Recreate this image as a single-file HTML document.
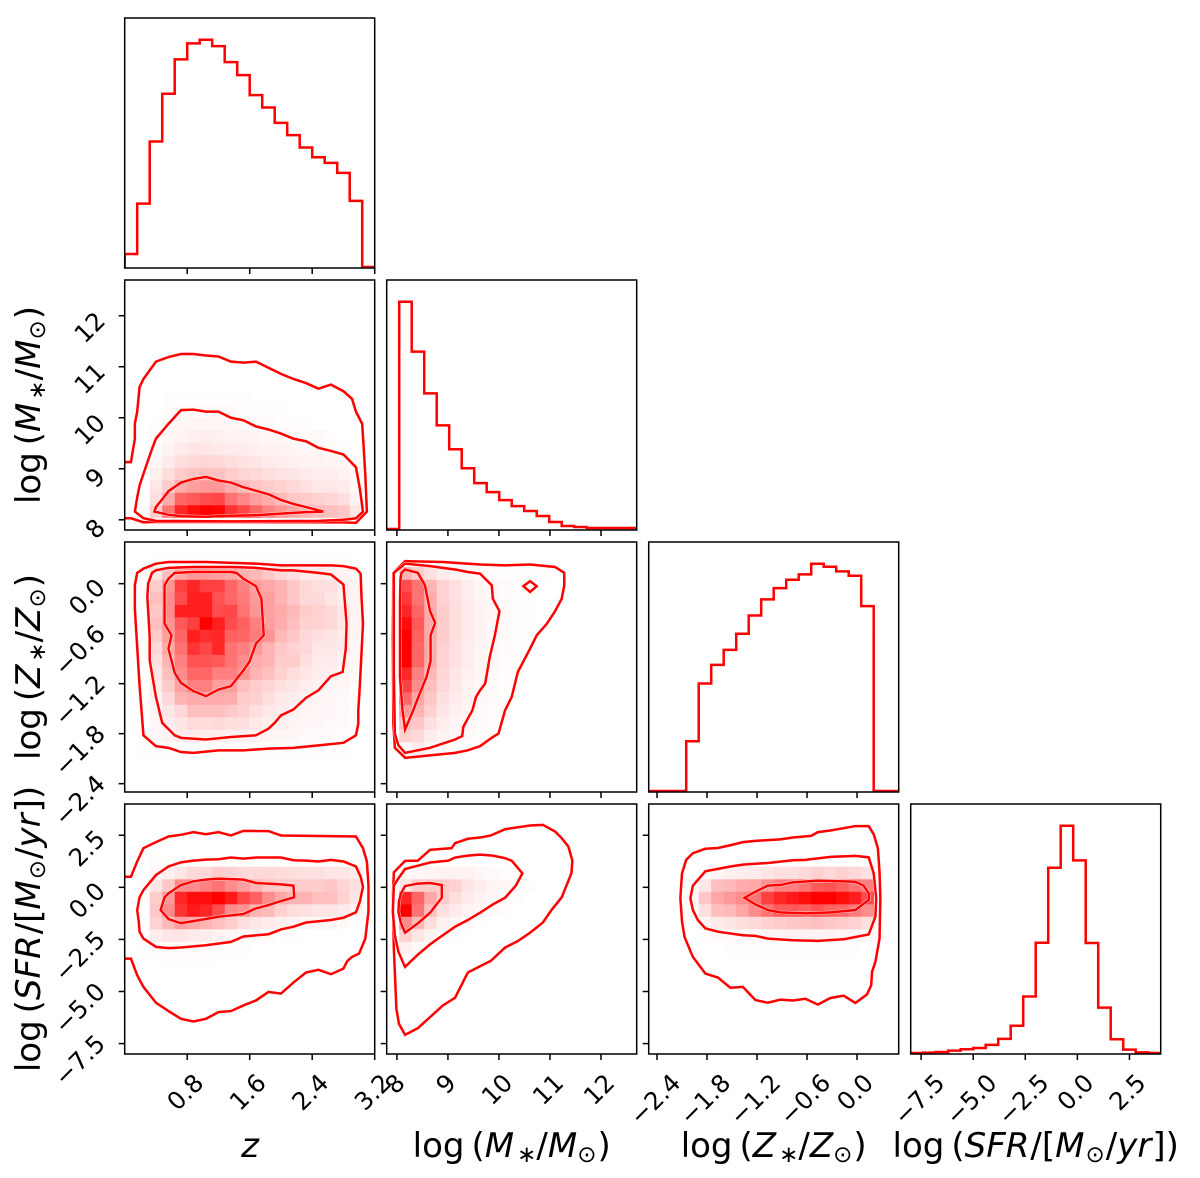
<!DOCTYPE html>
<html lang="en">
<head>
<meta charset="utf-8">
<title>Corner plot</title>
<style>
html,body{margin:0;padding:0;background:#fff;}
svg{display:block;}
text{font-family:"DejaVu Sans","Liberation Sans",sans-serif;fill:#000;}
</style>
</head>
<body>
<svg id="chart" xmlns="http://www.w3.org/2000/svg" width="1200" height="1178" viewBox="0 0 1200 1178">
<rect x="0" y="0" width="1200" height="1178" fill="#fff"/>
<g id="panels"></g>
<g id="ticklabels"></g>
<g font-size="34">
<text x="250" y="1157" text-anchor="middle" font-style="italic">z</text>
<text x="511.7" y="1157" text-anchor="middle">log<tspan dx="7">(</tspan><tspan font-style="italic">M</tspan><tspan dx="3" dy="5" font-size="23">∗</tspan><tspan dy="-5">/</tspan><tspan font-style="italic">M</tspan><tspan dy="5" font-size="23">⊙</tspan><tspan dx="1" dy="-5">)</tspan></text>
<text x="773.7" y="1157" text-anchor="middle">log<tspan dx="7">(</tspan><tspan font-style="italic">Z</tspan><tspan dx="3" dy="5" font-size="23">∗</tspan><tspan dy="-5">/</tspan><tspan font-style="italic">Z</tspan><tspan dy="5" font-size="23">⊙</tspan><tspan dx="1" dy="-5">)</tspan></text>
<text x="1035.7" y="1157" text-anchor="middle">log<tspan dx="7">(</tspan><tspan font-style="italic">SFR</tspan><tspan dx="1">/[</tspan><tspan font-style="italic">M</tspan><tspan dx="1" dy="5" font-size="23">⊙</tspan><tspan dx="1" dy="-5">/</tspan><tspan font-style="italic">yr</tspan><tspan dx="1">])</tspan></text>
<text transform="translate(40,405) rotate(-90)" text-anchor="middle">log<tspan dx="7">(</tspan><tspan font-style="italic">M</tspan><tspan dx="3" dy="5" font-size="23">∗</tspan><tspan dy="-5">/</tspan><tspan font-style="italic">M</tspan><tspan dy="5" font-size="23">⊙</tspan><tspan dx="1" dy="-5">)</tspan></text>
<text transform="translate(40,667) rotate(-90)" text-anchor="middle">log<tspan dx="7">(</tspan><tspan font-style="italic">Z</tspan><tspan dx="3" dy="5" font-size="23">∗</tspan><tspan dy="-5">/</tspan><tspan font-style="italic">Z</tspan><tspan dy="5" font-size="23">⊙</tspan><tspan dx="1" dy="-5">)</tspan></text>
<text transform="translate(40,929) rotate(-90)" text-anchor="middle">log<tspan dx="7">(</tspan><tspan font-style="italic">SFR</tspan><tspan dx="1">/[</tspan><tspan font-style="italic">M</tspan><tspan dx="1" dy="5" font-size="23">⊙</tspan><tspan dx="1" dy="-5">/</tspan><tspan font-style="italic">yr</tspan><tspan dx="1">])</tspan></text>
</g>
</svg>
<script>
// ---------- axis data ----------
const axisNames = ['z', 'stellar-mass', 'metallicity', 'sfr'];
const zRange = [0, 3.2];
const mRange = [7.8, 12.7];
const metalRange = [-2.5, 0.5];
const sfrRange = [-8, 4];
const zTicks = [0.8, 1.6, 2.4, 3.2];
const mTicks = [8, 9, 10, 11, 12];
const metalTicks = [-2.4, -1.8, -1.2, -0.6, 0.0];
const sfrTicks = [-7.5, -5.0, -2.5, 0.0, 2.5];
const zTickLabels = ['0.8', '1.6', '2.4', '3.2'];
const mTickLabels = ['8', '9', '10', '11', '12'];
const metalTickLabels = ['−2.4', '−1.8', '−1.2', '−0.6', '0.0'];
const sfrTickLabels = ['−7.5', '−5.0', '−2.5', '0.0', '2.5'];

// ---------- 1D histograms (20 bins) ----------
const histZ = [39,190,376,519,622,670,681,662,614,575,515,478,432,395,358,329,312,282,198,0];
const histMass = [0,684,534,408,312,240,183,138,111,87,69,54,39,21,9,6,3,3,3,3];
const histMetal = [0,0,0,149,322,378,423,471,526,574,608,633,649,681,672,658,645,554,0,0];
const histSfr = [0,1,3,7,11,15,24,42,81,168,328,551,676,573,327,135,41,10,2,0];

// ---------- 2D density (percent of max; rows bottom to top, cols left to right) ----------
const densityZMass = [
[],
[0,2,20,55,85,95,100,98,80,72,60,48,42,35,30,27,25,22,10],
[0,0,13,33,60,65,70,72,55,47,38,33,27,22,20,18,16,13,5],
[0,0,10,20,33,38,40,40,33,27,23,20,18,15,12,10,10,8,3],
[0,0,6,13,20,23,25,24,20,17,15,13,11,10,8,7,7,5,2],
[0,0,3,8,13,15,16,15,13,11,10,8,7,6,5,5,4,3,1],
[0,0,1,5,8,10,10,9,8,7,6,5,5,4,3,3,2,1],
[0,0,1,3,5,6,7,6,5,5,4,3,3,2,2,2,1],
[0,0,1,2,3,4,4,3,3,2,2,2,1,1,1],
[0,0,0,1,2,2,2,2,2,1,1,1,1],
[0,0,0,1,1,1,1,1,1,1]
];
const densityZMetal = [
[],[],[],
[0,1,1,1,1,1,1,1,1,1,1,1,1,1,1,1,1,1],
[0,0,3,5,7,8,7,7,6,6,5,4,3,3,2,2,2,1],
[0,0,3,7,10,14,14,15,13,12,9,7,6,4,3,3,2,2,1],
[0,0,4,10,15,25,25,25,22,18,13,9,8,5,4,3,3,2],
[0,0,5,15,30,33,33,33,32,20,18,13,9,7,5,4,3,2,1],
[0,0,8,20,37,50,50,38,38,25,20,17,12,10,7,5,4,3,1],
[0,0,10,25,45,60,60,50,50,42,30,25,18,13,10,7,6,4,2],
[0,0,12,30,50,68,68,65,55,45,33,30,20,20,12,8,8,5,3],
[0,0,15,35,55,80,72,85,55,50,40,30,22,18,15,10,10,7,3],
[0,0,20,38,60,88,82,85,62,60,52,42,28,22,15,12,10,8,4],
[0,0,25,42,65,75,100,88,70,62,50,38,32,25,18,18,15,10,5],
[0,0,22,45,88,88,88,70,72,55,42,38,33,28,20,18,15,10,5],
[0,0,25,45,70,88,88,68,60,52,40,38,30,22,15,15,10,7,5],
[0,0,20,42,75,85,75,75,60,50,38,35,30,22,15,13,12,7,5],
[0,2,10,25,35,40,40,38,35,30,28,22,15,12,8,8,6,5,3],
[0,0,1,1,1,1,1,1,1,1,1,1,1,1,1,1,1,1]
];
const densityMassMetal = [
[],[],[],
[0,2,8,3,2,1],
[0,18,15,7,5,3,2,1],
[0,25,22,12,7,4,3,2,1],
[0,40,30,18,10,6,4,2,1,1],
[0,60,35,22,12,8,5,3,2,1],
[0,75,45,25,15,9,5,3,2,1],
[0,85,50,28,16,10,6,4,2,1,1],
[0,100,60,33,18,12,7,4,3,1,1],
[0,100,60,33,18,12,7,4,3,2,1],
[0,100,62,33,20,13,8,5,3,2,1,1],
[0,95,65,33,20,13,8,5,3,2,1,1],
[0,85,60,33,20,13,8,5,3,2,1,1],
[0,78,55,33,18,12,7,4,3,2,1,1],
[0,70,55,30,18,12,7,4,3,2,1,1],
[0,30,20,12,7,5,3,2,1,1,1,1,1]
];
const densityZSfr = [
[],[],[],[],[],[],[],
[0,0,0,1,1,1,1],
[0,1,1,2,2,2,1,1,1,1],
[0,0,7,10,10,8,7,5,4,3,2,2,1,1],
[0,0,18,28,38,35,30,25,20,13,10,8,6,5,4,3,3,2,1],
[0,0,22,45,80,90,85,70,45,42,30,27,18,13,12,10,10,8,5],
[0,1,20,40,85,95,95,100,90,72,62,45,35,30,30,25,25,18,10],
[0,2,10,22,45,45,50,55,45,38,30,22,20,20,20,20,22,17,12,1],
[0,0,3,6,10,15,15,20,18,15,15,15,14,13,12,12,10,10,8],
[0,0,1,1,1,1,1,1,1,1,1,1,1,1,1,1,1,1,1]
];
const densityMassSfr = [
[],[],[],[],[],[],[],
[0,1],
[0,6,2,1],
[0,18,10,5,2,1],
[0,45,28,13,6,4,2,1],
[0,100,55,25,12,8,5,3,2,1],
[0,85,60,35,20,13,8,5,3,2,1],
[0,10,20,20,20,18,10,7,4,3,2,1],
[0,2,3,4,5,5,5,3,2,1]
];
const densityMetalSfr = [
[],[],[],[],[],[],[],[],
[0,0,0,0,0,0,1,1,1,1,1,1,1,1,1,1,1],
[0,0,0,0,1,2,2,3,3,4,4,5,5,5,5,4,4,3],
[0,0,0,0,4,8,10,13,15,18,20,22,23,25,22,20,18,13],
[0,0,0,2,12,25,28,35,45,55,65,65,62,68,62,60,52,45],
[0,0,0,3,22,35,40,45,55,75,85,90,95,100,100,95,88,70],
[0,0,0,2,10,25,28,33,35,42,50,50,55,65,68,62,55,50],
[0,0,0,0,2,4,6,7,8,10,12,12,15,18,15,18,15,12]
];

// ---------- contour vertices in data units ----------
const contourZMassOuter = [[0,9.13],[.08,9.13],[.13,9.59],[.13,9.88],[.16,10.12],[.19,10.6],[.24,10.76],[.4,11.1],[.56,11.19],[.72,11.25],[.88,11.25],[1.04,11.22],[1.2,11.2],[1.36,11.1],[1.52,11.08],[1.68,11.1],[1.84,10.98],[2,10.86],[2.16,10.76],[2.32,10.68],[2.48,10.57],[2.64,10.65],[2.8,10.52],[2.91,10.37],[2.96,10.12],[3.04,9.88],[3.06,9.39],[3.08,8.87],[3.1,8.16],[2.96,7.94],[2.8,7.95],[.4,7.96],[.24,7.95],[.08,8.03],[0,8.03]];
const contourZMassMiddle = [[.13,8.16],[.16,8.44],[.19,8.67],[.24,8.9],[.35,9.39],[.4,9.59],[.56,9.88],[.72,10.15],[.88,10.16],[1.04,10.12],[1.2,10.12],[1.36,10],[1.52,9.95],[1.68,9.83],[1.84,9.77],[2,9.69],[2.16,9.59],[2.32,9.54],[2.48,9.41],[2.64,9.35],[2.8,9.28],[2.96,9.03],[3.01,8.61],[3.05,8.16],[2.96,8.03],[2.8,8],[2.48,7.98],[1.36,7.97],[.4,7.98],[.24,8.03]];
const contourZMassInner = [[.38,8.16],[.4,8.25],[.5,8.44],[.56,8.56],[.72,8.73],[.88,8.8],[1.04,8.84],[1.2,8.77],[1.36,8.73],[1.52,8.64],[1.68,8.57],[1.84,8.5],[2,8.39],[2.16,8.31],[2.32,8.25],[2.54,8.16],[2.32,8.15],[2,8.12],[1.68,8.09],[1.36,8.08],[1.04,8.06],[.72,8.07],[.56,8.1]];

const contourZMetalOuter = [[.13,-.02],[.16,.13],[.24,.18],[.4,.24],[.56,.26],[1.04,.26],[1.68,.24],[2,.22],[2.32,.22],[2.64,.22],[2.8,.21],[2.96,.18],[3.02,.12],[3.03,-.14],[3.05,-.48],[3.01,-1.22],[2.99,-1.52],[2.99,-1.68],[2.96,-1.82],[2.8,-1.91],[2.48,-1.94],[2.16,-1.97],[1.84,-1.98],[1.52,-2],[1.2,-2],[.88,-2.03],[.72,-2.02],[.56,-1.97],[.4,-1.95],[.24,-1.82],[.19,-1.22],[.16,-.76],[.13,-.3]];
const contourZMetalMiddle = [[.3,0],[.35,.13],[.4,.16],[.56,.19],[.88,.2],[1.36,.2],[1.68,.19],[2,.16],[2.16,.16],[2.48,.13],[2.64,.11],[2.8,-.01],[2.84,-.48],[2.83,-.78],[2.79,-1.06],[2.64,-1.11],[2.48,-1.28],[2.32,-1.37],[2.16,-1.51],[2,-1.58],[1.92,-1.67],[1.84,-1.74],[1.68,-1.82],[1.36,-1.84],[1.04,-1.87],[.72,-1.85],[.64,-1.82],[.48,-1.67],[.4,-1.36],[.32,-.92],[.32,-.64],[.29,-.16]];
const contourZMetalInner = [[.51,-.02],[.56,.06],[.64,.13],[.88,.14],[1.36,.14],[1.43,.13],[1.52,.06],[1.68,-.03],[1.75,-.18],[1.77,-.48],[1.78,-.62],[1.68,-.72],[1.6,-.93],[1.52,-1.04],[1.36,-1.23],[1.2,-1.27],[1.04,-1.35],[.88,-1.29],[.72,-1.19],[.64,-1.07],[.56,-.78],[.6,-.62],[.51,-.48]];

const contourMassMetalOuter = [[7.93,.13],[8.16,.27],[8.9,.26],[9.63,.23],[10.12,.22],[10.61,.23],[11.1,.2],[11.28,.13],[11.28,-.02],[11.23,-.18],[11.1,-.33],[10.94,-.48],[10.74,-.62],[10.61,-.78],[10.37,-1.06],[10.25,-1.36],[10.12,-1.52],[9.99,-1.8],[9.88,-1.84],[9.63,-1.95],[9.39,-2],[9.14,-2.03],[8.65,-2.06],[8.16,-2.09],[7.96,-1.97],[7.93,-1.68],[7.92,-.64]];
const contourMassMetalMiddle = [[7.94,.13],[8.12,.22],[8.16,.24],[8.65,.21],[9.14,.17],[9.39,.14],[9.63,.12],[9.86,-.02],[9.88,-.18],[10.01,-.33],[9.92,-.62],[9.82,-.88],[9.73,-1.2],[9.63,-1.28],[9.55,-1.36],[9.48,-1.52],[9.37,-1.64],[9.3,-1.72],[9.28,-1.83],[9.14,-1.87],[8.65,-1.97],[8.16,-2.03],[8.03,-1.94],[7.96,-1.8],[7.94,-1.04]];
const contourMassMetalInner = [[8.07,.06],[8.09,.13],[8.16,.17],[8.41,.13],[8.55,-.02],[8.65,-.33],[8.75,-.47],[8.66,-.62],[8.66,-.93],[8.58,-1.12],[8.42,-1.36],[8.32,-1.52],[8.16,-1.75],[8.11,-1.52],[8.06,-1.12],[8.06,-.24]];
const contourMassMetalIsland = [[10.48,-.03],[10.61,.03],[10.74,-.03],[10.61,-.1]];

const contourZSfrOuter = [[0,.51],[.08,.51],[.16,1.24],[.24,1.88],[.4,2.17],[.56,2.44],[.72,2.52],[.88,2.65],[1.04,2.55],[1.2,2.65],[1.36,2.49],[1.52,2.71],[1.84,2.7],[2,2.49],[2.96,2.44],[3.05,1.88],[3.1,1.24],[3.12,.11],[3.12,-1.17],[3.08,-2.46],[3,-3.18],[2.91,-3.34],[2.85,-3.53],[2.8,-3.9],[2.64,-4.17],[2.48,-3.96],[2.32,-4.09],[2.16,-4.57],[2,-5.1],[1.84,-5.02],[1.68,-5.43],[1.52,-5.67],[1.36,-5.94],[1.2,-5.99],[1.04,-6.31],[.88,-6.44],[.72,-6.31],[.56,-5.94],[.4,-5.54],[.24,-4.78],[.16,-4.22],[.08,-3.42],[0,-3.42]];
const contourZSfrMiddle = [[.18,-1.65],[.16,-1.09],[.19,-.48],[.24,-.13],[.4,.59],[.56,1],[.72,1.2],[.88,1.28],[1.04,1.33],[1.2,1.35],[1.36,1.43],[1.52,1.38],[1.68,1.43],[2,1.43],[2.16,1.3],[2.32,1.28],[2.48,1.24],[2.64,1.32],[2.8,1.24],[2.96,1],[3.02,.51],[3.05,.03],[3.01,-.69],[2.96,-1.2],[2.8,-1.46],[2.64,-1.57],[2.32,-1.69],[2.16,-1.89],[2,-2.02],[1.84,-2.25],[1.52,-2.36],[1.36,-2.62],[1.04,-2.78],[.72,-2.89],[.56,-2.92],[.4,-2.86],[.24,-2.46],[.19,-2.13]];
const contourZSfrInner = [[.46,-1.09],[.51,-.48],[.56,-.29],[.72,.11],[.88,.29],[1.04,.37],[1.2,.42],[1.52,.37],[1.68,.21],[2,.14],[2.16,.08],[2.17,-.48],[2,-.66],[1.84,-.85],[1.68,-1.01],[1.52,-1.28],[1.2,-1.41],[1.04,-1.52],[.72,-1.72],[.56,-1.52]];

const contourMassSfrOuter = [[7.94,.72],[8.16,1.27],[8.41,1.28],[8.65,1.8],[9.07,1.88],[9.14,2.12],[9.39,2.33],[9.63,2.39],[9.84,2.49],[10.12,2.79],[10.61,2.97],[10.86,3],[11.1,2.68],[11.23,2.36],[11.36,1.96],[11.44,1.28],[11.42,.67],[11.23,-.48],[11.03,-1.09],[10.86,-1.69],[10.61,-2.18],[10.37,-2.58],[10.12,-2.89],[9.84,-3.53],[9.63,-3.79],[9.39,-4.09],[9.14,-5.3],[8.9,-5.67],[8.65,-6.23],[8.41,-6.76],[8.16,-7.08],[8.04,-6.55],[7.99,-5.83],[7.94,-2.94],[7.92,-.53]];
const contourMassSfrMiddle = [[7.94,.08],[8.03,.43],[8.16,.88],[8.41,1.04],[8.65,1.19],[9.01,1.28],[9.14,1.43],[9.39,1.52],[9.63,1.57],[9.88,1.52],[10.12,1.4],[10.25,1.28],[10.46,.67],[10.33,.08],[10.12,-.5],[9.88,-.82],[9.63,-1.22],[9.39,-1.57],[9.14,-1.89],[8.9,-2.3],[8.65,-2.74],[8.41,-3.23],[8.16,-3.82],[8.03,-3.1],[7.96,-2.3],[7.92,-1.17]];
const contourMassSfrInner = [[8.04,-.69],[8.08,-.29],[8.16,.06],[8.41,.18],[8.65,.21],[8.88,.11],[8.88,-.5],[8.65,-1.22],[8.41,-1.73],[8.16,-2.18],[8.08,-1.73],[8.03,-1.17]];

const contourMetalSfrOuter = [[-2.11,.11],[-2.1,.67],[-2.05,1.32],[-1.97,1.64],[-1.82,1.85],[-1.67,1.89],[-1.52,2.02],[-1.37,2.17],[-1.22,2.23],[-.92,2.3],[-.77,2.39],[-.55,2.47],[-.47,2.65],[-.32,2.73],[-.16,2.84],[-.02,2.94],[.14,2.94],[.2,2.55],[.25,1.88],[.27,.75],[.28,-.53],[.27,-2.46],[.22,-3.58],[.18,-4.06],[.17,-4.7],[.12,-5.14],[-.02,-5.55],[-.16,-5.2],[-.32,-5.31],[-.47,-5.63],[-.62,-5.35],[-.77,-5.43],[-.92,-5.39],[-1.07,-5.54],[-1.22,-5.41],[-1.37,-4.78],[-1.52,-4.82],[-1.67,-4.33],[-1.82,-4.14],[-1.97,-3.34],[-2.07,-2.38],[-2.1,-1.65],[-2.12,-.53]];
const contourMetalSfrMiddle = [[-1.97,.08],[-1.82,.77],[-1.52,1],[-1.37,1.09],[-1.07,1.17],[-.77,1.3],[-.62,1.32],[-.32,1.46],[-.02,1.51],[.14,1.44],[.2,.67],[.23,-.53],[.22,-1.41],[.14,-2.26],[-.16,-2.49],[-.47,-2.57],[-.77,-2.54],[-1.07,-2.46],[-1.22,-2.33],[-1.37,-2.3],[-1.67,-2.13],[-1.82,-1.97],[-1.91,-1.57],[-1.97,-1.09],[-2,-.53]];
const contourMetalSfrInner = [[-1.35,-.5],[-1.22,-.21],[-1.07,.08],[-.92,.11],[-.77,.24],[-.47,.32],[-.02,.27],[.08,.08],[.14,-.29],[.14,-.61],[-.02,-1.09],[-.32,-1.2],[-.62,-1.25],[-.92,-1.2],[-1.07,-1.09],[-1.22,-.82]];

// ---------- layout ----------
const NS = 'http://www.w3.org/2000/svg';
const panelLeft = [124.7, 386.7, 648.7, 910.7];
const panelTop = [18, 280, 542, 804];
const panelSize = 250;
const binCount = 20;
const histBaseOffset = 1;
const ranges = [zRange, mRange, metalRange, sfrRange];
const ticks = [zTicks, mTicks, metalTicks, sfrTicks];
const tickLabels = [zTickLabels, mTickLabels, metalTickLabels, sfrTickLabels];
const histograms = [histZ, histMass, histMetal, histSfr];
const densities = {
  '1-0': densityZMass,
  '2-0': densityZMetal,
  '2-1': densityMassMetal,
  '3-0': densityZSfr,
  '3-1': densityMassSfr,
  '3-2': densityMetalSfr
};
const contours = {
  '1-0': [[contourZMassOuter, false], [contourZMassMiddle, true], [contourZMassInner, true]],
  '2-0': [[contourZMetalOuter, true], [contourZMetalMiddle, true], [contourZMetalInner, true]],
  '2-1': [[contourMassMetalOuter, true], [contourMassMetalMiddle, true], [contourMassMetalInner, true], [contourMassMetalIsland, true]],
  '3-0': [[contourZSfrOuter, false], [contourZSfrMiddle, true], [contourZSfrInner, true]],
  '3-1': [[contourMassSfrOuter, true], [contourMassSfrMiddle, true], [contourMassSfrInner, true]],
  '3-2': [[contourMetalSfrOuter, true], [contourMetalSfrMiddle, true], [contourMetalSfrInner, true]]
};

function xScale(col, v) {
  const r = ranges[col];
  return panelLeft[col] + (v - r[0]) / (r[1] - r[0]) * panelSize;
}
function yScale(row, v) {
  const r = ranges[row];
  return panelTop[row] + panelSize - (v - r[0]) / (r[1] - r[0]) * panelSize;
}
function histY(row, v) {
  const peak = Math.max.apply(null, histograms[row]) * 1.1;
  return panelTop[row] + panelSize - histBaseOffset - v / peak * panelSize;
}
function binEdge(axis, i) {
  const r = ranges[axis];
  return r[0] + (r[1] - r[0]) * i / binCount;
}
function make(tag, attrs, parent) {
  const e = document.createElementNS(NS, tag);
  for (const k in attrs) e.setAttribute(k, attrs[k]);
  parent.appendChild(e);
  return e;
}

const root = document.getElementById('panels');
const defs = make('defs', {}, root);
const labelLayer = document.getElementById('ticklabels');

function drawFrameAndTicks(g, row, col, is2D) {
  const l = panelLeft[col], t = panelTop[row], b = t + panelSize;
  ticks[col].forEach(function (v) {
    const x = xScale(col, v);
    const tick = make('line', {x1: x, x2: x, y1: b, y2: b + 6, stroke: '#000', 'stroke-width': 1.5}, g);
    
    
  });
  if (is2D) {
    ticks[row].forEach(function (v) {
      const y = yScale(row, v);
      const tick = make('line', {x1: l - 6, x2: l, y1: y, y2: y, stroke: '#000', 'stroke-width': 1.5}, g);
      
      
    });
  }
  const frame = make('rect', {x: l, y: t, width: panelSize, height: panelSize, fill: 'none', stroke: '#000', 'stroke-width': 1.5}, g);
  
  
}

for (let row = 0; row < 4; row++) {
  for (let col = 0; col <= row; col++) {
    const g = make('g', {}, root);
    
    
    const clipId = 'clip-' + row + '-' + col;
    const clip = make('clipPath', {id: clipId}, defs);
    make('rect', {x: panelLeft[col], y: panelTop[row], width: panelSize, height: panelSize}, clip);
    const inner = make('g', {'clip-path': 'url(#' + clipId + ')'}, g);

    if (row === col) {
      const h = histograms[col];
      const base = panelTop[row] + panelSize;
      let d = 'M' + xScale(col, binEdge(col, 0)) + ' ' + base;
      h.forEach(function (v, i) {
        d += 'L' + xScale(col, binEdge(col, i)) + ' ' + histY(row, v);
        d += 'L' + xScale(col, binEdge(col, i + 1)) + ' ' + histY(row, v);
      });
      d += 'L' + xScale(col, binEdge(col, binCount)) + ' ' + base;
      const line = make('path', {d: d, fill: 'none', stroke: '#ff0000', 'stroke-width': 2.5, 'stroke-linejoin': 'miter'}, inner);
      
      
    } else {
      const key = row + '-' + col;
      densities[key].forEach(function (cells, j) {
        cells.forEach(function (pct, i) {
          if (!pct) return;
          const x0 = xScale(col, binEdge(col, i));
          const x1 = xScale(col, binEdge(col, i + 1));
          const y0 = yScale(row, binEdge(row, j + 1));
          const y1 = yScale(row, binEdge(row, j));
          const shade = Math.round(255 * (1 - pct / 100));
          const cell = make('rect', {x: x0, y: y0, width: x1 - x0 + 0.3, height: y1 - y0 + 0.3, fill: 'rgb(255,' + shade + ',' + shade + ')'}, inner);
          
          
        });
      });
      contours[key].forEach(function (entry) {
        const pts = entry[0];
        let d = '';
        pts.forEach(function (p, n) {
          d += (n ? 'L' : 'M') + xScale(col, p[0]).toFixed(2) + ' ' + yScale(row, p[1]).toFixed(2);
        });
        if (entry[1]) d += 'Z';
        const halo = make('path', {d: d, fill: 'none', stroke: '#fff', 'stroke-width': 3.4, 'stroke-opacity': 0.8}, inner);
        
        
        const line = make('path', {d: d, fill: 'none', stroke: '#ff0000', 'stroke-width': 2.5, 'stroke-linejoin': 'miter'}, inner);
        
        
      });
    }
    drawFrameAndTicks(g, row, col, row !== col);
  }
}

// ---------- tick labels ----------
const tickFont = 24.5;
function rotatedSide(el) {
  return (el.getComputedTextLength() + 0.73 * tickFont) / Math.SQRT2;
}
for (let col = 0; col < 4; col++) {
  ticks[col].forEach(function (v, n) {
    const t = make('text', {'font-size': tickFont, 'text-anchor': 'middle', 'dominant-baseline': 'central'}, labelLayer);
    t.textContent = tickLabels[col][n];
    
    
    const side = rotatedSide(t);
    const cx = xScale(col, v) - 2;
    const cy = 1072 + side / 2;
    t.setAttribute('transform', 'translate(' + cx + ',' + cy + ') rotate(-45)');
  });
}
for (let row = 1; row < 4; row++) {
  ticks[row].forEach(function (v, n) {
    const t = make('text', {'font-size': tickFont, 'text-anchor': 'middle', 'dominant-baseline': 'central'}, labelLayer);
    t.textContent = tickLabels[row][n];
    
    
    const side = rotatedSide(t);
    const cx = 107 - side / 2;
    const cy = yScale(row, v) + side * 0.25 + 3;
    t.setAttribute('transform', 'translate(' + cx + ',' + cy + ') rotate(-45)');
  });
}
</script>
</body>
</html>
